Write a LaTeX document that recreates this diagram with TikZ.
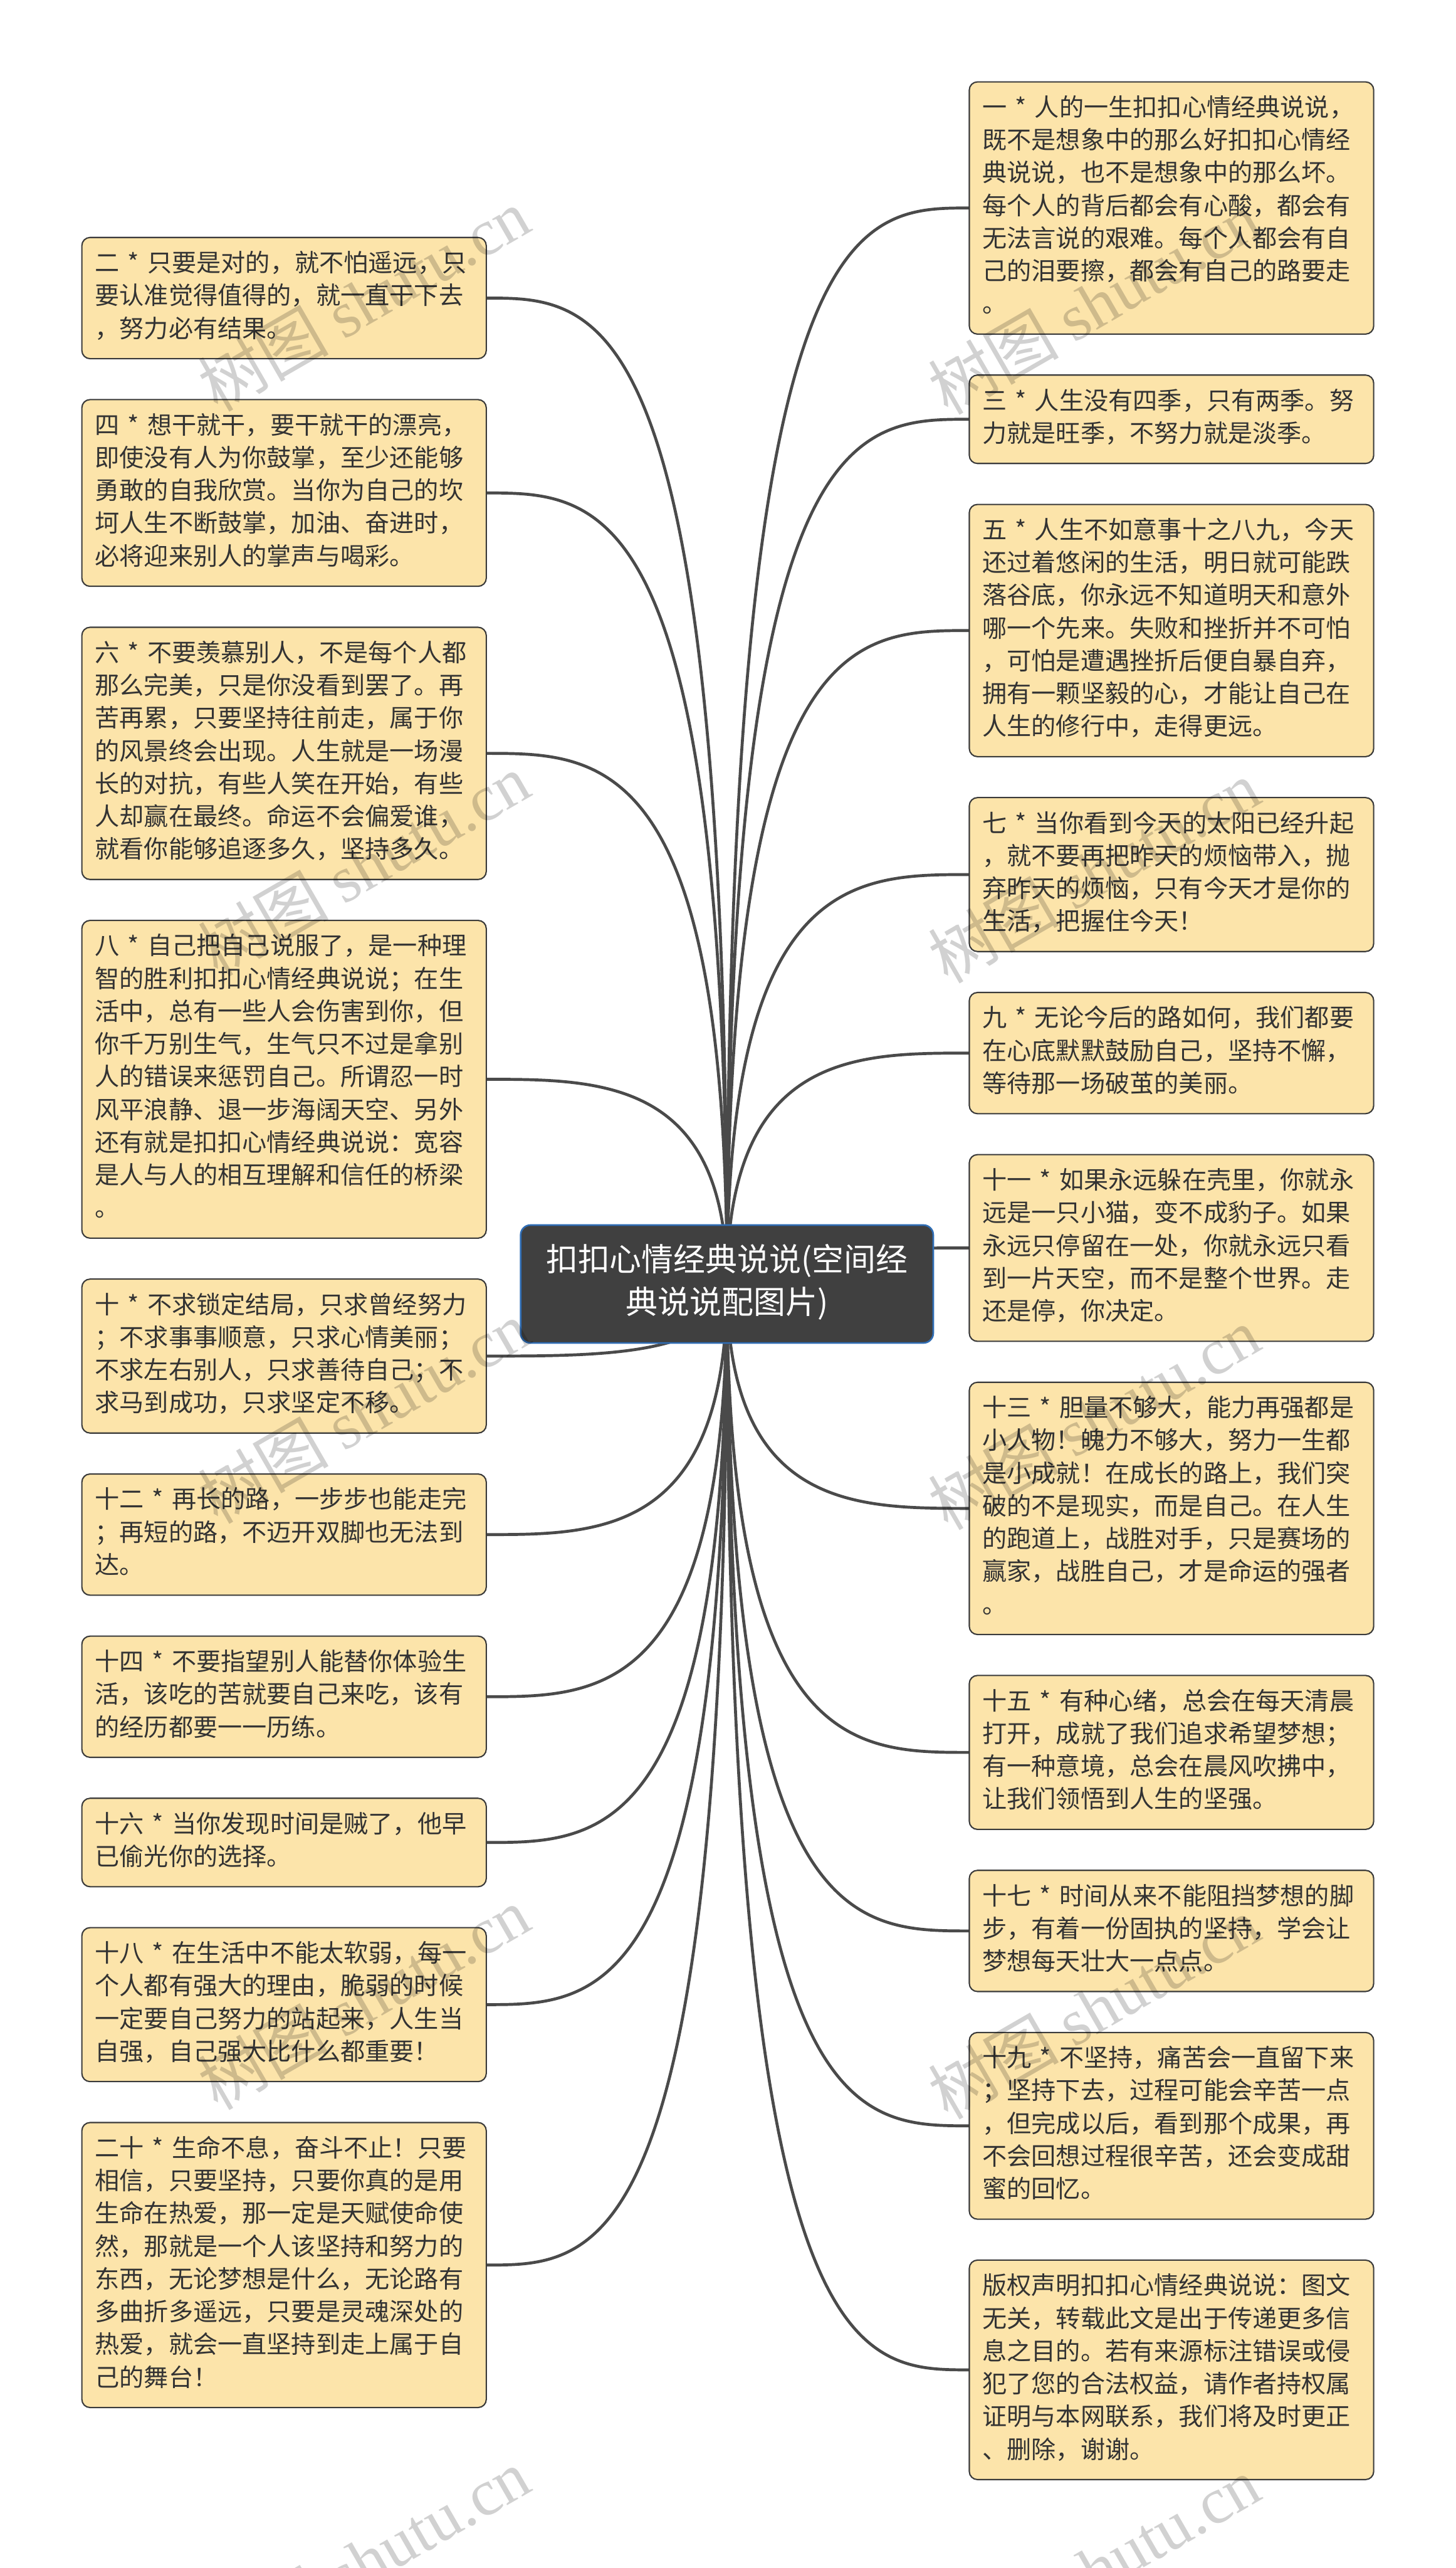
\documentclass[tikz,border=0pt]{standalone}
\usepackage{fontspec}
\setmainfont{Noto Sans CJK SC}
\newfontfamily\serifwm{Liberation Serif}
\usepackage{xcolor}
\usepackage{tikz}
\usetikzlibrary{positioning, backgrounds}

\definecolor{fundo}{HTML}{FCE4AA}
\definecolor{borda}{HTML}{3A3A3A}
\definecolor{texto}{HTML}{333333}
\definecolor{linha}{HTML}{4A4A4A}
\definecolor{raizfundo}{HTML}{404040}
\definecolor{raizborda}{HTML}{2F6DB5}

\begin{document}
\begin{tikzpicture}[
    x=1pt, y=-1pt,
    every node/.style={inner sep=0pt, outer sep=0pt}
  ]
  \tikzset{
    caixa/.style={draw=borda, fill=fundo, rounded corners=5pt, line width=0.8pt,
      text=texto, align=left, text width=231pt, inner xsep=8pt, inner ysep=7pt,
      font=\fontsize{15}{20}\selectfont,
      execute at begin node=\strut, execute at end node=\strut},
    raiz/.style={draw=raizborda, fill=raizfundo, rounded corners=6pt, line width=1pt,
      text=white, align=center, text width=232pt, inner xsep=10pt, inner ysep=10pt,
      font=\fontsize{19.5}{26}\selectfont,
      execute at begin node=\strut, execute at end node=\strut},
    ramo/.style={draw=linha, line width=1.8pt},
    marca/.style={rotate=30, text=black, text opacity=0.18,
      font=\fontsize{40}{44}\selectfont}
  }
  \useasboundingbox (0,0) rectangle (889,1568);

  \node[raiz] (raiz) at (444,784) {扣扣心情经典说说(空间经\\典说说配图片)};

  % esquerda
  \node[caixa, anchor=north west] (e1) at (50,145) {二 * 只要是对的，就不怕遥远，只\\要认准觉得值得的，就一直干下去\\，努力必有结果。};
  \node[caixa, below=25pt of e1] (e2) {四 * 想干就干，要干就干的漂亮，\\即使没有人为你鼓掌，至少还能够\\勇敢的自我欣赏。当你为自己的坎\\坷人生不断鼓掌，加油、奋进时，\\必将迎来别人的掌声与喝彩。};
  \node[caixa, below=25pt of e2] (e3) {六 * 不要羡慕别人，不是每个人都\\那么完美，只是你没看到罢了。再\\苦再累，只要坚持往前走，属于你\\的风景终会出现。人生就是一场漫\\长的对抗，有些人笑在开始，有些\\人却赢在最终。命运不会偏爱谁，\\就看你能够追逐多久，坚持多久。};
  \node[caixa, below=25pt of e3] (e4) {八 * 自己把自己说服了，是一种理\\智的胜利扣扣心情经典说说；在生\\活中，总有一些人会伤害到你，但\\你千万别生气，生气只不过是拿别\\人的错误来惩罚自己。所谓忍一时\\风平浪静、退一步海阔天空、另外\\还有就是扣扣心情经典说说：宽容\\是人与人的相互理解和信任的桥梁\\。};
  \node[caixa, below=25pt of e4] (e5) {十 * 不求锁定结局，只求曾经努力\\；不求事事顺意，只求心情美丽；\\不求左右别人，只求善待自己；不\\求马到成功，只求坚定不移。};
  \node[caixa, below=25pt of e5] (e6) {十二 * 再长的路，一步步也能走完\\；再短的路，不迈开双脚也无法到\\达。};
  \node[caixa, below=25pt of e6] (e7) {十四 * 不要指望别人能替你体验生\\活，该吃的苦就要自己来吃，该有\\的经历都要一一历练。};
  \node[caixa, below=25pt of e7] (e8) {十六 * 当你发现时间是贼了，他早\\已偷光你的选择。};
  \node[caixa, below=25pt of e8] (e9) {十八 * 在生活中不能太软弱，每一\\个人都有强大的理由，脆弱的时候\\一定要自己努力的站起来，人生当\\自强，自己强大比什么都重要！};
  \node[caixa, below=25pt of e9] (e10) {二十 * 生命不息，奋斗不止！只要\\相信，只要坚持，只要你真的是用\\生命在热爱，那一定是天赋使命使\\然，那就是一个人该坚持和努力的\\东西，无论梦想是什么，无论路有\\多曲折多遥远，只要是灵魂深处的\\热爱，就会一直坚持到走上属于自\\己的舞台！};

  % direita
  \node[caixa, anchor=north west] (d1) at (592,50) {一 * 人的一生扣扣心情经典说说，\\既不是想象中的那么好扣扣心情经\\典说说，也不是想象中的那么坏。\\每个人的背后都会有心酸，都会有\\无法言说的艰难。每个人都会有自\\己的泪要擦，都会有自己的路要走\\。};
  \node[caixa, below=25pt of d1] (d2) {三 * 人生没有四季，只有两季。努\\力就是旺季，不努力就是淡季。};
  \node[caixa, below=25pt of d2] (d3) {五 * 人生不如意事十之八九，今天\\还过着悠闲的生活，明日就可能跌\\落谷底，你永远不知道明天和意外\\哪一个先来。失败和挫折并不可怕\\，可怕是遭遇挫折后便自暴自弃，\\拥有一颗坚毅的心，才能让自己在\\人生的修行中，走得更远。};
  \node[caixa, below=25pt of d3] (d4) {七 * 当你看到今天的太阳已经升起\\，就不要再把昨天的烦恼带入，抛\\弃昨天的烦恼，只有今天才是你的\\生活，把握住今天！};
  \node[caixa, below=25pt of d4] (d5) {九 * 无论今后的路如何，我们都要\\在心底默默鼓励自己，坚持不懈，\\等待那一场破茧的美丽。};
  \node[caixa, below=25pt of d5] (d6) {十一 * 如果永远躲在壳里，你就永\\远是一只小猫，变不成豹子。如果\\永远只停留在一处，你就永远只看\\到一片天空，而不是整个世界。走\\还是停，你决定。};
  \node[caixa, below=25pt of d6] (d7) {十三 * 胆量不够大，能力再强都是\\小人物！魄力不够大，努力一生都\\是小成就！在成长的路上，我们突\\破的不是现实，而是自己。在人生\\的跑道上，战胜对手，只是赛场的\\赢家，战胜自己，才是命运的强者\\。};
  \node[caixa, below=25pt of d7] (d8) {十五 * 有种心绪，总会在每天清晨\\打开，成就了我们追求希望梦想；\\有一种意境，总会在晨风吹拂中，\\让我们领悟到人生的坚强。};
  \node[caixa, below=25pt of d8] (d9) {十七 * 时间从来不能阻挡梦想的脚\\步，有着一份固执的坚持，学会让\\梦想每天壮大一点点。};
  \node[caixa, below=25pt of d9] (d10) {十九 * 不坚持，痛苦会一直留下来\\；坚持下去，过程可能会辛苦一点\\，但完成以后，看到那个成果，再\\不会回想过程很辛苦，还会变成甜\\蜜的回忆。};
  \node[caixa, below=25pt of d10] (d11) {版权声明扣扣心情经典说说：图文\\无关，转载此文是出于传递更多信\\息之目的。若有来源标注错误或侵\\犯了您的合法权益，请作者持权属\\证明与本网联系，我们将及时更正\\、删除，谢谢。};

  \begin{scope}[on background layer]
    \fill[white] (0,0) rectangle (889,1568);
    \foreach \n in {1,...,10}
      \draw[ramo] (raiz.center) .. controls (raiz.center |- e\n.east) and ([xshift=70pt]e\n.east) .. (e\n.east);
    \foreach \n in {1,...,11}
      \draw[ramo] (raiz.center) .. controls (raiz.center |- d\n.west) and ([xshift=-70pt]d\n.west) .. (d\n.west);
  \end{scope}

  % marca d'agua
  \begin{scope}
    \clip (0,0) rectangle (889,1568);
    \foreach \px/\py [count=\k] in {222/183, 668/185, 222/528, 668/532, 222/862, 668/866, 222/1220, 668/1226, 222/1563, 668/1568}
      \node[marca] (m\k) at (\px,\py) {树图 {\serifwm shutu.cn}};
  \end{scope}
\end{tikzpicture}
\end{document}
